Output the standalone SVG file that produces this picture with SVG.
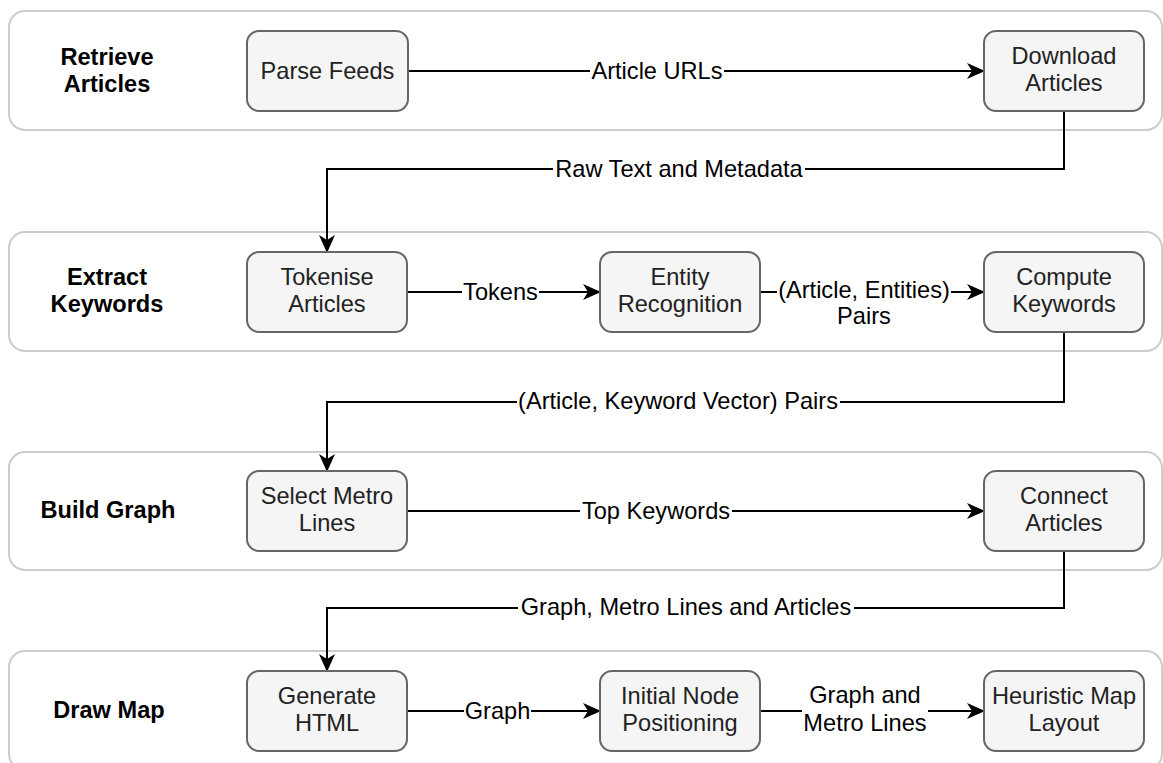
<svg xmlns="http://www.w3.org/2000/svg" width="1163" height="763" viewBox="0 0 1163 763">
<style>
  .lane { fill: #ffffff; stroke: #cccccc; stroke-width: 2; }
  .node rect { fill: #f5f5f5; stroke: #666666; stroke-width: 2; }
  .ntxt { font-family: "Liberation Sans", Arial, Helvetica, sans-serif; font-size: 23.6px; fill: #222222; text-anchor: middle; }
  .ltxt { font-family: "Liberation Sans", Arial, Helvetica, sans-serif; font-size: 23.6px; font-weight: bold; fill: #000000; text-anchor: middle; }
  .etxt { font-family: "Liberation Sans", Arial, Helvetica, sans-serif; font-size: 23.6px; fill: #000000; text-anchor: middle; }
  .edge { fill: none; stroke: #000000; stroke-width: 2; marker-end: url(#arrow); }
  .lblbg { fill: #ffffff; stroke: none; }
</style>
<defs>
  <marker id="arrow" viewBox="0 0 18 16" refX="17" refY="8" markerWidth="18" markerHeight="16" markerUnits="userSpaceOnUse" orient="auto">
    <path d="M0,0 L18,8 L0,16 L5,8 Z" fill="#000000"/>
  </marker>
</defs>

<g id="lanes">
  <g id="lane-retrieve">
    <rect class="lane" x="9" y="11" width="1153" height="119" rx="16"/>
    <text class="ltxt" x="107" y="65">Retrieve</text>
    <text class="ltxt" x="107" y="92">Articles</text>
  </g>
  <g id="lane-extract">
    <rect class="lane" x="9" y="232" width="1153" height="119" rx="16"/>
    <text class="ltxt" x="107" y="285">Extract</text>
    <text class="ltxt" x="107" y="312">Keywords</text>
  </g>
  <g id="lane-build">
    <rect class="lane" x="9" y="452" width="1153" height="118" rx="16"/>
    <text class="ltxt" x="108" y="518">Build Graph</text>
  </g>
  <g id="lane-draw">
    <rect class="lane" x="9" y="651" width="1153" height="119" rx="16"/>
    <text class="ltxt" x="109" y="718">Draw Map</text>
  </g>
</g>

<g id="connectors">
  <path class="edge" d="M408,71 L984,71"/>
  <path class="edge" d="M1064,111 L1064,169 L327,169 L327,252"/>
  <path class="edge" d="M407,292 L600,292"/>
  <path class="edge" d="M760,292 L984,292"/>
  <path class="edge" d="M1064,332 L1064,402 L327,402 L327,471"/>
  <path class="edge" d="M407,511 L984,511"/>
  <path class="edge" d="M1064,551 L1064,608 L327,608 L327,671"/>
  <path class="edge" d="M407,711 L600,711"/>
  <path class="edge" d="M760,711 L984,711"/>

  <rect class="lblbg" x="590" y="59" width="134" height="24"/>
  <text class="etxt" x="657" y="79">Article URLs</text>

  <rect class="lblbg" x="553" y="157" width="252" height="24"/>
  <text class="etxt" x="679" y="177">Raw Text and Metadata</text>

  <rect class="lblbg" x="462" y="280" width="77" height="24"/>
  <text class="etxt" x="500.5" y="300">Tokens</text>

  <rect class="lblbg" x="777" y="280" width="174" height="24"/>
  <text class="etxt" x="864" y="298">(Article, Entities)</text>
  <text class="etxt" x="864" y="324">Pairs</text>

  <rect class="lblbg" x="517" y="390" width="323" height="24"/>
  <text class="etxt" x="678" y="409">(Article, Keyword Vector) Pairs</text>

  <rect class="lblbg" x="580" y="499" width="152" height="24"/>
  <text class="etxt" x="656" y="519">Top Keywords</text>

  <rect class="lblbg" x="518" y="596" width="336" height="24"/>
  <text class="etxt" x="686" y="615">Graph, Metro Lines and Articles</text>

  <rect class="lblbg" x="464" y="699" width="67" height="24"/>
  <text class="etxt" x="497.5" y="719">Graph</text>

  <rect class="lblbg" x="802" y="685" width="126" height="52"/>
  <text class="etxt" x="865" y="703">Graph and</text>
  <text class="etxt" x="865" y="731">Metro Lines</text>
</g>

<g id="node-parse-feeds" class="node">
  <rect x="247" y="31" width="161" height="80" rx="12"/>
  <text class="ntxt" x="327.5" y="79">Parse Feeds</text>
</g>
<g id="node-download-articles" class="node">
  <rect x="984" y="31" width="160" height="80" rx="12"/>
  <text class="ntxt" x="1064" y="64">Download</text>
  <text class="ntxt" x="1064" y="91">Articles</text>
</g>
<g id="node-tokenise-articles" class="node">
  <rect x="247" y="252" width="160" height="80" rx="12"/>
  <text class="ntxt" x="327" y="285">Tokenise</text>
  <text class="ntxt" x="327" y="312">Articles</text>
</g>
<g id="node-entity-recognition" class="node">
  <rect x="600" y="252" width="160" height="80" rx="12"/>
  <text class="ntxt" x="680" y="285">Entity</text>
  <text class="ntxt" x="680" y="312">Recognition</text>
</g>
<g id="node-compute-keywords" class="node">
  <rect x="984" y="252" width="160" height="80" rx="12"/>
  <text class="ntxt" x="1064" y="285">Compute</text>
  <text class="ntxt" x="1064" y="312">Keywords</text>
</g>
<g id="node-select-metro-lines" class="node">
  <rect x="247" y="471" width="160" height="80" rx="12"/>
  <text class="ntxt" x="327" y="504">Select Metro</text>
  <text class="ntxt" x="327" y="531">Lines</text>
</g>
<g id="node-connect-articles" class="node">
  <rect x="984" y="471" width="160" height="80" rx="12"/>
  <text class="ntxt" x="1064" y="504">Connect</text>
  <text class="ntxt" x="1064" y="531">Articles</text>
</g>
<g id="node-generate-html" class="node">
  <rect x="247" y="671" width="160" height="80" rx="12"/>
  <text class="ntxt" x="327" y="704">Generate</text>
  <text class="ntxt" x="327" y="731">HTML</text>
</g>
<g id="node-initial-node-positioning" class="node">
  <rect x="600" y="671" width="160" height="80" rx="12"/>
  <text class="ntxt" x="680" y="704">Initial Node</text>
  <text class="ntxt" x="680" y="731">Positioning</text>
</g>
<g id="node-heuristic-map-layout" class="node">
  <rect x="984" y="671" width="160" height="80" rx="12"/>
  <text class="ntxt" x="1064" y="704">Heuristic Map</text>
  <text class="ntxt" x="1064" y="731">Layout</text>
</g>
</svg>
